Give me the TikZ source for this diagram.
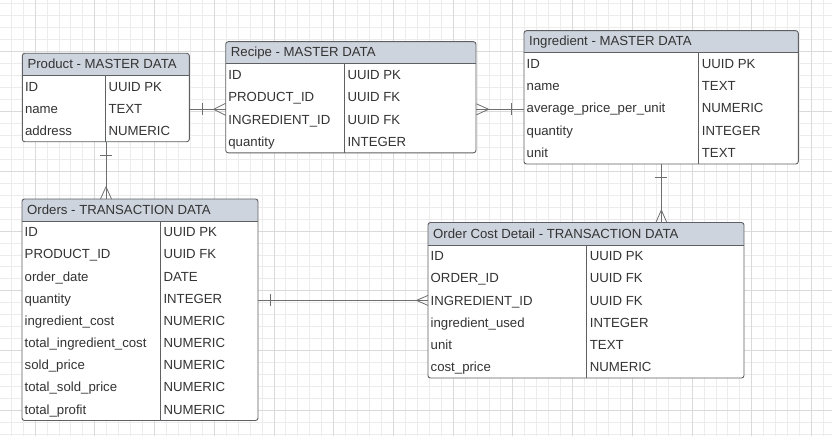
\documentclass[tikz,border=0pt]{standalone}
\usepackage{fontspec}
\setmainfont{Liberation Sans}
\definecolor{hdr}{HTML}{CED4DD}
\definecolor{bord}{HTML}{5E6063}
\definecolor{txt}{HTML}{333333}
\definecolor{gmin}{HTML}{ECECEC}
\definecolor{gmaj}{HTML}{DADADA}
\definecolor{conn}{HTML}{6E6E6E}
\tikzset{
  cell/.style={anchor=base west, inner sep=0pt, text=txt, font=\fontsize{13.2}{15}\selectfont},
  tbl/.style={draw=bord, line width=0.9pt, rounded corners=2.5pt},
  sepline/.style={draw=bord, line width=0.9pt},
  rel/.style={draw=conn, line width=0.8pt},
}
% #1 name, #2 x1, #3 x2, #4 xdiv, #5 y1, #6 header bottom, #7 y2, #8 title, #9 rows
\newcommand\ertable[9]{%
  \fill[white, rounded corners=2.5pt] (#2,#5) rectangle (#3,#7);
  \begin{scope}
    \clip[rounded corners=2.5pt] (#2,#5) rectangle (#3,#7);
    \fill[hdr] (#2,#5) rectangle (#3,#6);
  \end{scope}
  \draw[tbl] (#2,#5) rectangle (#3,#7);
  \draw[sepline] (#2,#6) -- (#3,#6);
  \draw[sepline] (#4,#6) -- (#4,#7);
  \node[inner sep=0pt, minimum width={#3-#2}, minimum height={#7-#5}, anchor=north west] (#1) at (#2,#5) {};
  \node[cell] (#1-title) at ({#2+5},{(#5+#6)/2+4.3}) {#8};
  \gdef\nrows{0}%
  \foreach \a/\b in {#9} {\xdef\nrows{\the\numexpr\nrows+1\relax}}%
  \pgfmathsetmacro\rowsp{(#7-#6)/\nrows}%
  \foreach \a/\b [count=\i] in {#9} {
    \pgfmathsetmacro\yy{#6+(\i-0.5)*\rowsp}
    \coordinate (#1-r\i) at (#2,\yy);
    \node[cell] (#1-n\i) at ({#2+2.5},{\yy+4.7}) {\a};
    \node[cell] (#1-t\i) at ({#4+3},{\yy+4.7}) {\b};
  }
}
\begin{document}
\begin{tikzpicture}[x=1pt,y=-1pt]
\useasboundingbox (0,0) rectangle (832,436);
\fill[white] (0,0) rectangle (832,436);
% grid
\begin{scope}
  \clip (0,0) rectangle (832,436);
  \foreach \k in {0,...,70} {
    \draw[gmin, line width=0.8pt] ({-0.8+11.945*\k},0) -- ({-0.8+11.945*\k},436);
  }
  \foreach \k in {0,...,37} {
    \draw[gmin, line width=0.8pt] (0,{3.9+11.953*\k}) -- (832,{3.9+11.953*\k});
  }
  \foreach \k in {0,...,13} {
    \draw[gmaj, line width=0.8pt] ({35+59.725*\k},0) -- ({35+59.725*\k},436);
  }
  \foreach \k in {0,...,7} {
    \draw[gmaj, line width=0.8pt] (0,{51.7+59.765*\k}) -- (832,{51.7+59.765*\k});
  }
\end{scope}

\ertable{prod}{22.3}{189.3}{105.3}{53.3}{75.5}{141.7}{Product - MASTER DATA}%
  {ID/UUID PK, name/TEXT, address/NUMERIC}
\ertable{recipe}{225.7}{476}{344.3}{41.7}{63.5}{152.8}{Recipe - MASTER DATA}%
  {ID/UUID PK, PRODUCT\_ID/UUID FK, INGREDIENT\_ID/UUID FK, quantity/INTEGER}
\ertable{ingr}{524}{798.3}{698.7}{30.7}{52.5}{164}{Ingredient - MASTER DATA}%
  {ID/UUID PK, name/TEXT, average\_price\_per\_unit/NUMERIC, quantity/INTEGER, unit/TEXT}
\ertable{orders}{22}{258}{160.3}{199}{221}{420.5}{Orders - TRANSACTION DATA}%
  {ID/UUID PK, PRODUCT\_ID/UUID FK, order\_date/DATE, quantity/INTEGER, ingredient\_cost/NUMERIC,
   total\_ingredient\_cost/NUMERIC, sold\_price/NUMERIC, total\_sold\_price/NUMERIC, total\_profit/NUMERIC}
\ertable{ocd}{428}{744}{586.7}{222.5}{245}{378}{Order Cost Detail - TRANSACTION DATA}%
  {ID/UUID PK, ORDER\_ID/UUID FK, INGREDIENT\_ID/UUID FK, ingredient\_used/INTEGER, unit/TEXT, cost\_price/NUMERIC}

\coordinate (lvl1) at (0,109.3);
% Product -- Recipe
\draw[rel] (prod.east |- lvl1) -- (recipe.west |- lvl1);
\draw[rel] (prod.east |- lvl1) ++(12.4,-6) -- ++(0,12);
\draw[rel] (recipe.west |- lvl1) ++(-12,0) -- ++(12,-6) ++(0,12) -- ++(-12,-6);
% Recipe -- Ingredient
\draw[rel] (recipe.east |- lvl1) -- (ingr.west |- lvl1);
\draw[rel] (recipe.east |- lvl1) ++(12.3,0) -- ++(-12.3,-5.5) ++(0,11) -- ++(12.3,-5.5);
\draw[rel] (ingr.west |- lvl1) ++(-12.3,-6) -- ++(0,12);
% Product -- Orders
\draw[rel] (prod.south) -- (prod.south |- orders.north);
\draw[rel] (prod.south) ++(-6,13.3) -- ++(12,0);
\draw[rel] (prod.south |- orders.north) ++(0,-12.3) -- ++(-5.5,12.3) ++(11,0) -- ++(-5.5,-12.3);
% Ingredient -- Order Cost Detail
\draw[rel] (ingr.south) -- (ingr.south |- ocd.north);
\draw[rel] (ingr.south) ++(-6,12.7) -- ++(12,0);
\draw[rel] (ingr.south |- ocd.north) ++(0,-12.5) -- ++(-5.5,12.5) ++(11,0) -- ++(-5.5,-12.5);
% Orders -- Order Cost Detail
\draw[rel] (orders.east |- ocd-r3) -- (ocd.west |- ocd-r3);
\draw[rel] (orders.east |- ocd-r3) ++(12,-6) -- ++(0,12);
\draw[rel] (ocd.west |- ocd-r3) ++(-11.5,0) -- ++(11.5,-5) ++(0,10) -- ++(-11.5,-5);
\end{tikzpicture}
\end{document}
